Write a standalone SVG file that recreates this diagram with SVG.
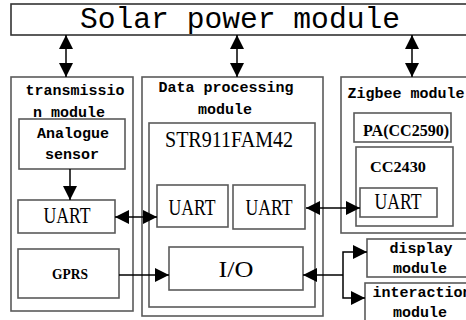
<svg xmlns="http://www.w3.org/2000/svg" width="466" height="320" viewBox="0 0 466 320">
<defs>
<marker id="ah" viewBox="0 0 10 10" refX="10" refY="5" markerWidth="14" markerHeight="14" markerUnits="userSpaceOnUse" orient="auto-start-reverse">
<path d="M0,0 L10,5 L0,10 z" fill="#000"/>
</marker>
<style>
.box{fill:#fff;stroke:#5a5a5a;stroke-width:1.6}
.lbl{font-family:"Liberation Mono",monospace;font-weight:bold;font-size:15px;fill:#000;text-anchor:middle}
.big{font-family:"Liberation Serif",serif;font-size:23px;fill:#000;text-anchor:middle}
.con{stroke:#000;stroke-width:1.5;fill:none}
</style>
</defs>
<rect width="466" height="320" fill="#fff"/>
<g id="solar">
<rect class="box" x="11" y="4" width="470" height="31" style="stroke:#333"/>
<text x="240" y="28" font-family="Liberation Mono, monospace" font-size="30" text-anchor="middle" textLength="320" lengthAdjust="spacingAndGlyphs">Solar power module</text>
</g>
<g id="transmission">
<rect class="box" x="11" y="77" width="122" height="234"/>
<text class="lbl" x="75" y="95">transmissio</text>
<text class="lbl" x="69" y="117">n module</text>
</g>
<g id="sensor">
<rect class="box" x="19" y="119" width="106" height="50"/>
<text class="lbl" x="73" y="138">Analogue</text>
<text class="lbl" x="72" y="159">sensor</text>
</g>
<g id="uart1">
<rect class="box" x="18" y="200" width="97" height="33"/>
<text class="big" x="67" y="223" textLength="47" lengthAdjust="spacingAndGlyphs">UART</text>
</g>
<g id="gprs">
<rect class="box" x="18" y="249" width="101" height="49"/>
<text x="70" y="279" font-family="Liberation Serif, serif" font-weight="bold" font-size="15" text-anchor="middle" textLength="36" lengthAdjust="spacingAndGlyphs">GPRS</text>
</g>
<g id="dataproc">
<rect class="box" x="142" y="77" width="181" height="239"/>
<text class="lbl" x="226" y="92">Data processing</text>
<text class="lbl" x="225" y="114">module</text>
</g>
<g id="str">
<rect class="box" x="149" y="123" width="166" height="184"/>
<text class="big" x="229" y="147" textLength="128" lengthAdjust="spacingAndGlyphs">STR911FAM42</text>
</g>
<g id="uart2">
<rect class="box" x="157" y="185" width="71" height="42"/>
<text class="big" x="192" y="215" textLength="47" lengthAdjust="spacingAndGlyphs">UART</text>
</g>
<g id="uart3">
<rect class="box" x="233" y="185" width="72" height="44"/>
<text class="big" x="269" y="215" textLength="47" lengthAdjust="spacingAndGlyphs">UART</text>
</g>
<g id="io">
<rect class="box" x="169" y="247" width="134" height="43"/>
<text class="big" x="236" y="277" textLength="35" lengthAdjust="spacingAndGlyphs">I/O</text>
</g>
<g id="zigbee">
<rect class="box" x="341" y="77" width="140" height="156"/>
<text class="lbl" x="406" y="98">Zigbee module</text>
</g>
<g id="pa">
<rect class="box" x="354" y="113" width="97" height="29"/>
<text x="406" y="136" font-family="Liberation Serif, serif" font-weight="bold" font-size="17" text-anchor="middle" textLength="86" lengthAdjust="spacingAndGlyphs">PA(CC2590)</text>
</g>
<g id="cc2430">
<rect class="box" x="356" y="147" width="97" height="79"/>
<text x="398" y="172" font-family="Liberation Serif, serif" font-weight="bold" font-size="15" text-anchor="middle" textLength="56" lengthAdjust="spacingAndGlyphs">CC2430</text>
</g>
<g id="uart4">
<rect class="box" x="360" y="188" width="77" height="29"/>
<text class="big" x="398" y="209" textLength="47" lengthAdjust="spacingAndGlyphs">UART</text>
</g>
<g id="display">
<rect class="box" x="367" y="239" width="110" height="38"/>
<text class="lbl" x="421" y="253">display</text>
<text class="lbl" x="420" y="273">module</text>
</g>
<g id="interaction">
<rect class="box" x="365" y="283" width="110" height="45"/>
<text class="lbl" x="422" y="297">interaction</text>
<text class="lbl" x="420" y="317">module</text>
</g>
<g id="connectors">
<line class="con" x1="66" y1="35" x2="66" y2="77" marker-start="url(#ah)" marker-end="url(#ah)"/>
<line class="con" x1="237" y1="35" x2="237" y2="77" marker-start="url(#ah)" marker-end="url(#ah)"/>
<line class="con" x1="412" y1="35" x2="412" y2="77" marker-start="url(#ah)" marker-end="url(#ah)"/>
<line class="con" x1="70" y1="169" x2="70" y2="200" marker-end="url(#ah)"/>
<line class="con" x1="115" y1="217" x2="157" y2="217" marker-start="url(#ah)" marker-end="url(#ah)"/>
<line class="con" x1="119" y1="275" x2="169" y2="275" marker-end="url(#ah)"/>
<line class="con" x1="306" y1="208" x2="360" y2="208" marker-start="url(#ah)" marker-end="url(#ah)"/>
<line class="con" x1="303" y1="275" x2="343" y2="275" marker-start="url(#ah)"/>
<polyline class="con" points="367,252 343,252 343,298 365,298" marker-start="url(#ah)" marker-end="url(#ah)"/>
</g>
</svg>
